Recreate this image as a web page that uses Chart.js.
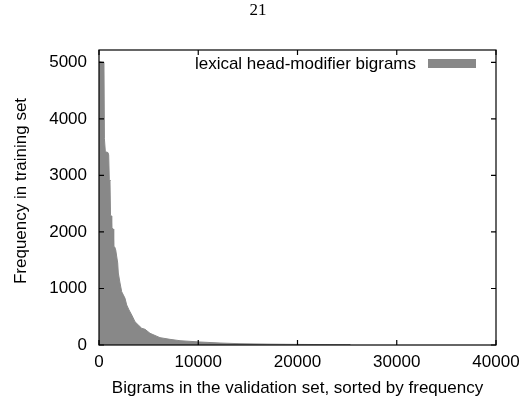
<!DOCTYPE html>
<html>
<head>
<meta charset="utf-8">
<script src="https://cdn.jsdelivr.net/npm/chart.js@4/dist/chart.umd.min.js"></script>
<style>
  html, body { margin: 0; padding: 0; background: #fff; }
  #wrap { width: 522px; height: 397px; position: relative; }
</style>
</head>
<body>
<div id="wrap"><canvas id="freqChart"></canvas></div>
<script>
// rank of the bigram (sorted) and its frequency in the training set
const ranks = [0, 500, 545, 640, 905, 977, 1038, 1108, 1159, 1239, 1280, 1441, 1481, 1582, 1683,
  1884, 1945, 2116, 2287, 2620, 2791, 3023, 3295, 3627, 3960, 4302, 4635, 5139, 6146, 7154,
  8162, 10177, 12192, 14207, 17230, 20253, 25290, 25300];
const freqs = [5015, 5000, 3650, 3420, 3405, 3363, 2920, 2903, 2301, 2283, 2071, 2053, 1752, 1735, 1682,
  1451, 1274, 1097, 943, 827, 708, 620, 531, 412, 354, 296, 278, 207, 130, 100,
  76, 53, 35, 23, 15, 10, 5, 0];
const xTicks = [0, 10000, 20000, 30000, 40000];
const yTicks = [0, 1000, 2000, 3000, 4000, 5000];
const seriesLabel = 'lexical head-modifier bigrams';
const pageNumber = '21';

const FONT = '"Liberation Sans", Arial, Helvetica, sans-serif';
const FILL = '#888888';

// gnuplot-like frame, inward ticks, key and page number
const gnuplotDecor = {
  id: 'gnuplotDecor',
  afterDatasetsDraw(chart) {
    const { ctx, chartArea: a, scales } = chart;
    const tick = 5;
    ctx.save();
    ctx.strokeStyle = '#000';
    ctx.lineWidth = 1.2;
    ctx.strokeRect(a.left, a.top, a.right - a.left, a.bottom - a.top);
    ctx.beginPath();
    xTicks.forEach((v) => {
      const x = scales.x.getPixelForValue(v);
      ctx.moveTo(x, a.bottom); ctx.lineTo(x, a.bottom - tick);
      ctx.moveTo(x, a.top); ctx.lineTo(x, a.top + tick);
    });
    yTicks.forEach((v) => {
      const y = scales.y.getPixelForValue(v);
      ctx.moveTo(a.left, y); ctx.lineTo(a.left + tick, y);
      ctx.moveTo(a.right, y); ctx.lineTo(a.right - tick, y);
    });
    ctx.stroke();

    // key
    ctx.fillStyle = '#000';
    ctx.font = '17px ' + FONT;
    ctx.textAlign = 'right';
    ctx.textBaseline = 'middle';
    ctx.fillText(seriesLabel, 416, 64);
    ctx.fillStyle = FILL;
    ctx.fillRect(428, 59, 48, 9);

    // y axis title, placed as in the source figure
    ctx.fillStyle = '#000';
    ctx.font = '17px ' + FONT;
    ctx.translate(21, 191);
    ctx.rotate(-Math.PI / 2);
    ctx.textAlign = 'center';
    ctx.fillText('Frequency in training set', 0, 0);
    ctx.setTransform(1, 0, 0, 1, 0, 0);

    // page number
    ctx.font = '17px "Liberation Serif", "Times New Roman", serif';
    ctx.textAlign = 'center';
    ctx.fillText(pageNumber, 258, 11);
    ctx.restore();
  }
};

new Chart(document.getElementById('freqChart'), {
  type: 'line',
  data: {
    datasets: [
      {
        label: seriesLabel,
        data: ranks.map((r, i) => ({ x: r, y: freqs[i] })),
        backgroundColor: FILL,
        borderColor: FILL,
        borderWidth: 1,
        fill: 'origin',
        pointRadius: 0,
        tension: 0
      }
    ]
  },
  options: {
    responsive: true,
    maintainAspectRatio: false,
    animation: false,
    layout: { padding: { top: 50, right: 26, left: 0, bottom: 0 } },
    plugins: {
      legend: { display: false },
      tooltip: { enabled: false }
    },
    scales: {
      x: {
        type: 'linear',
        min: 0,
        max: 40000,
        afterFit: (s) => { s.height = 52; s.paddingRight = 0; },
        afterBuildTicks: (s) => { s.ticks = xTicks.map((v) => ({ value: v })); },
        grid: { display: false, drawTicks: false },
        border: { display: false },
        ticks: {
          autoSkip: false,
          maxRotation: 0,
          padding: 7,
          color: '#000',
          font: { family: FONT, size: 17 },
          callback: (v) => String(v)
        },
        title: {
          display: true,
          text: 'Bigrams in the validation set, sorted by frequency',
          color: '#000',
          font: { family: FONT, size: 17, lineHeight: 1 },
          padding: { top: 0, bottom: 0 }
        }
      },
      y: {
        min: 0,
        max: 5220,
        afterFit: (s) => { s.width = 99; },
        afterBuildTicks: (s) => { s.ticks = yTicks.map((v) => ({ value: v })); },
        grid: { display: false, drawTicks: false },
        border: { display: false },
        ticks: {
          padding: 12,
          color: '#000',
          font: { family: FONT, size: 17 },
          callback: (v) => String(v)
        }
      }
    }
  },
  plugins: [gnuplotDecor]
});
</script>
</body>
</html>
